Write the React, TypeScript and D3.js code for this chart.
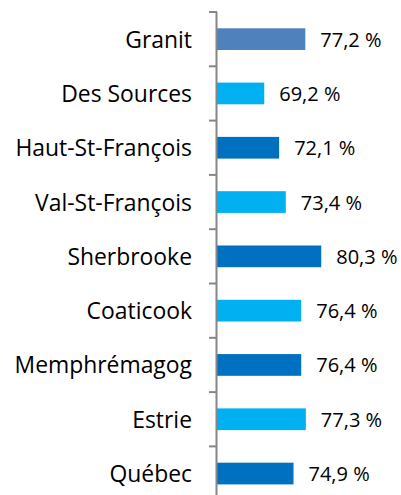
import React from "react";
import * as d3 from "d3";

const categories = ["Granit", "Des Sources", "Haut-St-François", "Val-St-François", "Sherbrooke", "Coaticook", "Memphrémagog", "Estrie", "Québec"];
const values = [77.2, 69.2, 72.1, 73.4, 80.3, 76.4, 76.4, 77.3, 74.9];
const colors = ["#4F81BD", "#00B0F0", "#0070C0", "#00B0F0", "#0070C0", "#00B0F0", "#0070C0", "#00B0F0", "#0070C0"];

const W = 401, H = 495;
const axisX = 217;

export default function App() {
  const x = d3.scaleLinear().domain([60, 90]).range([axisX, axisX + 30 * 5.135]);
  const y = d3.scaleBand<string>().domain(categories).range([12, 12 + 9 * 54.3]).paddingInner(0.6).paddingOuter(0.3);
  const step = y.step();
  const fmt = (v: number) => v.toFixed(1).replace(".", ",") + " %";
  const font = "'Open Sans', sans-serif";
  return (
    <div style={{ position: "absolute", left: 0, top: 0 }}>
      <svg width={W} height={H} style={{ display: "block", background: "#fff" }}>
        {categories.map((c, i) => {
          const yc = (y(c) as number) + y.bandwidth() / 2;
          return (
            <g key={c}>
              <rect x={axisX} y={y(c)} width={x(values[i]) - axisX} height={y.bandwidth()} fill={colors[i]} />
              <text x={x(values[i]) + 15} y={yc} dominantBaseline="central" fontFamily={font} fontSize={20} fill="#000">{fmt(values[i])}</text>
              <text x={192} y={yc} dominantBaseline="central" textAnchor="end" fontFamily={font} fontSize={22.9} fill="#000">{c}</text>
            </g>
          );
        })}
        <line x1={axisX - 0.5} x2={axisX - 0.5} y1={12} y2={12 + 9 * step} stroke="#868686" strokeWidth={2} />
        {d3.range(10).map((k) => (
          <line key={k} x1={209} x2={axisX} y1={12 + k * step} y2={12 + k * step} stroke="#868686" strokeWidth={2} />
        ))}
      </svg>
    </div>
  );
}
